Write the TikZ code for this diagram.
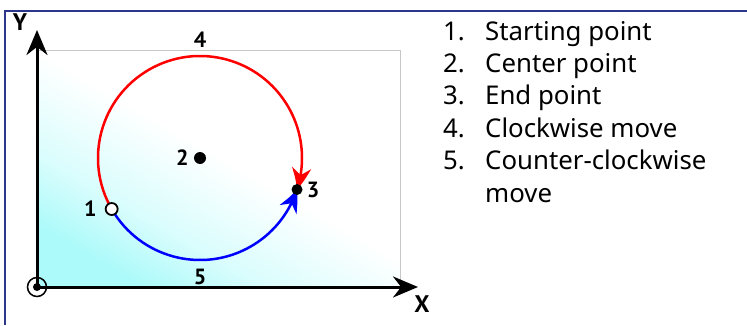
\documentclass[tikz,border=0pt]{standalone}
\usepackage{fontspec}
\setmainfont{Noto Sans}
\newfontfamily\lblfont{PT Sans}
\usepackage{tikz}
\usetikzlibrary{arrows.meta, bending, positioning}
\definecolor{framenavy}{RGB}{44,54,138}
\definecolor{planecyan}{RGB}{172,250,250}
\pgfdeclareverticalshading{planeshade}{100bp}{color(0bp)=(planecyan); color(25bp)=(planecyan); color(36bp)=(planecyan!45!white); color(52bp)=(white); color(100bp)=(white)}

\begin{document}
\begin{tikzpicture}[
        x=1pt, y=1pt,
        % Styles for frame, plane and axes
        frameline/.style={draw=framenavy, line width=2pt},
        plane/.style={draw=black!22, line width=0.8pt},
        axis/.style={line width=3pt, -{Stealth[length=25pt, width=21pt]}},
        axisname/.style={font=\lblfont\bfseries\fontsize{24}{24}\selectfont, inner sep=0pt},
        % Styles for points and moves
        dot/.style={circle, fill=black, minimum size=12pt, inner sep=0pt},
        opendot/.style={circle, draw=black, line width=1.8pt, fill=white, minimum size=12pt, inner sep=0pt},
        ring/.style={circle, draw=black, line width=1.5pt, minimum size=19pt, inner sep=0pt},
        numlbl/.style={font=\lblfont\bfseries\fontsize{22}{22}\selectfont, inner sep=0pt},
        cwarc/.style={draw=red, line width=2.5pt, -{Stealth[length=22pt, width=19pt, bend]}},
        ccwarc/.style={draw=blue, line width=2.5pt, -{Stealth[length=22pt, width=19pt, bend]}},
        % Styles for the legend
        listnum/.style={font=\fontsize{25.8}{25.8}\selectfont, anchor=base west, inner sep=0pt},
        listtxt/.style={font=\fontsize{25.8}{25.8}\selectfont, anchor=base west, inner sep=0pt}
    ]
    \useasboundingbox (0,0) rectangle (747,325);

    % --- FRAME ---
    \draw[frameline] (5,0) -- (5,314) -- (747,314);

    % --- PLANE ---
    \shade[shading=planeshade, shading angle=-30] (37,38) rectangle (400,275);
    \draw[plane] (37,38) rectangle (400,275);

    % --- AXES ---
    \node[ring] (O) at (37,38) {};
    \node[dot, minimum size=8pt] (Odot) at (O) {};
    \coordinate (ytip) at (37,295);
    \coordinate (xtip) at (418,38);
    \draw[axis] (O.center) -- (ytip);
    \draw[axis] (O.center) -- (xtip);
    \node[axisname] (Y) at (20,303) {Y};
    \node[axisname] (X) at (422,21) {X};

    % --- MOVES ---
    \coordinate (ctr) at (200,167);
    \coordinate (s) at ([shift={(210:102)}]ctr);
    \coordinate (e) at ([shift={(-18:102)}]ctr);
    \draw[cwarc] (s) arc[start angle=210, end angle=-18, radius=102];
    \draw[ccwarc] (s) arc[start angle=210, end angle=342, radius=102];
    \node[numlbl] (L4) at (200,285) {4};
    \node[numlbl] (L5) at (200,48) {5};

    % --- POINTS ---
    \node[opendot] (p1) at (s) {};
    \node[dot] (p2) at (ctr) {};
    \node[dot, minimum size=11pt] (p3) at (e) {};
    \node[numlbl, left=8pt of p1] (L1) {1};
    \node[numlbl, left=5pt of p2] (L2) {2};
    \node[numlbl, right=4pt of p3] (L3) {3};

    % --- LEGEND ---
    \foreach \n/\txt in {1/Starting point, 2/Center point, 3/End point, 4/Clockwise move, 5/Counter-clockwise} {
        \node[listnum] (N\n) at (443, 285-32.4*\n+32.4) {\n.};
        \node[listtxt] (T\n) at (485, 285-32.4*\n+32.4) {\txt};
    }
    \node[listtxt] (T6) at (485, 123) {move};

\end{tikzpicture}
\end{document}
